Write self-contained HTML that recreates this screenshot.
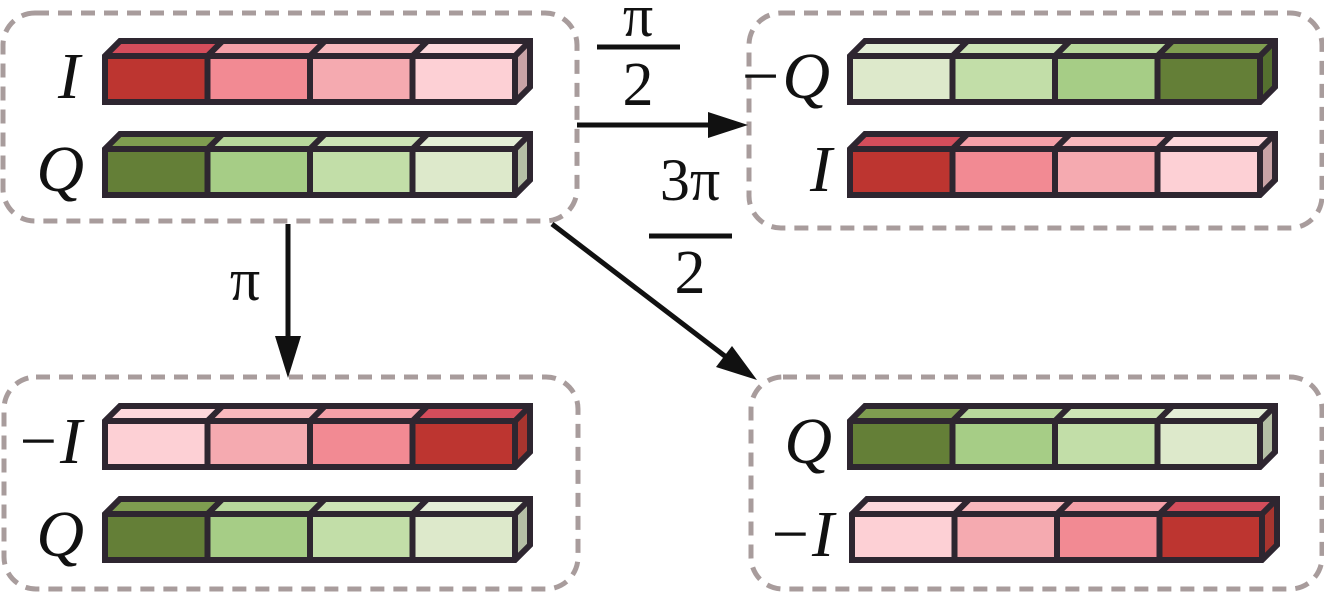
<!DOCTYPE html>
<html><head><meta charset="utf-8"><style>
html,body{margin:0;padding:0;background:#fff;}
svg{display:block;}
</style></head><body>
<svg id="s" width="1324" height="592" viewBox="0 0 1324 592" xmlns="http://www.w3.org/2000/svg" font-family="'Liberation Serif','DejaVu Serif',serif">
<g fill="none" stroke="#a89c9c" stroke-width="5" stroke-dasharray="14,9">
<rect x="3" y="13" width="574" height="208" rx="32"/>
<rect x="749" y="13" width="573" height="215" rx="32"/>
<rect x="4" y="377" width="574" height="212" rx="32"/>
<rect x="751" y="377" width="571" height="212" rx="32"/>
</g>
<g stroke="#111" stroke-width="5" fill="#111">
<line x1="577" y1="125" x2="718" y2="125"/>
<polygon points="748,125 708,112 708,138" stroke="none"/>
<line x1="288" y1="224" x2="288" y2="345"/>
<polygon points="288,378 275,336 301,336" stroke="none"/>
<line x1="552" y1="224" x2="730" y2="360"/>
<polygon points="757,380 716,367 732,346" stroke="none"/>
<line x1="597" y1="47" x2="680" y2="47"/>
<line x1="649" y1="236" x2="732" y2="236"/>
</g>
<g font-family="'Liberation Serif','DejaVu Serif',serif" fill="#111">
<text x="638" y="36" font-size="60" text-anchor="middle">π</text>
<text x="638" y="105" font-size="62" text-anchor="middle">2</text>
<text x="690" y="200" font-size="60" text-anchor="middle">3π</text>
<text x="690" y="293" font-size="62" text-anchor="middle">2</text>
<text x="245" y="300" font-size="60" text-anchor="middle">π</text>
</g>
<g font-family="'Liberation Serif','DejaVu Serif',serif" font-style="italic" font-size="66" fill="#111">
<text x="80" y="98" text-anchor="end">I</text>
<text x="84" y="191" text-anchor="end">Q</text>
<text x="830" y="98" text-anchor="end">−Q</text>
<text x="832" y="191" text-anchor="end">I</text>
<text x="82" y="463" text-anchor="end">−I</text>
<text x="84" y="556" text-anchor="end">Q</text>
<text x="832" y="463" text-anchor="end">Q</text>
<text x="834" y="556" text-anchor="end">−I</text>
</g>
<g id="bars"></g>
</svg>
<script>
var R=[["#bd3530","#d44d5b","#a8352f"],["#f28a93","#f5a0a8","#c98a90"],["#f5aab0","#f8b8bd","#c9a3a6"],["#fdd0d5","#fdd8dc","#c9a3a6"]];
var G=[["#647f37","#7f9d50","#55702f"],["#a6cd86","#b8d89c","#9fae8a"],["#c2dea8","#cde4b6","#b5bfa5"],["#dde9cb","#e4eed7","#b5bfa5"]];
function bar(x,y,cols){
 var w=410,h=46,d=15,cw=w/4,s="";
 for(var i=0;i<4;i++){var c=cols[i],cx=x+i*cw;
  s+='<polygon points="'+cx+','+y+' '+(cx+d)+','+(y-d)+' '+(cx+cw+d)+','+(y-d)+' '+(cx+cw)+','+y+'" fill="'+c[1]+'"/>';
  s+='<rect x="'+cx+'" y="'+y+'" width="'+cw+'" height="'+h+'" fill="'+c[0]+'"/>';}
 var l=cols[3];
 s+='<polygon points="'+(x+w)+','+y+' '+(x+w+d)+','+(y-d)+' '+(x+w+d)+','+(y+h-d)+' '+(x+w)+','+(y+h)+'" fill="'+l[2]+'"/>';
 var st='stroke="#2e2630" stroke-width="6" fill="none" stroke-linejoin="miter"';
 s+='<path '+st+' d="M'+x+','+y+' L'+(x+d)+','+(y-d)+' L'+(x+w+d)+','+(y-d)+' L'+(x+w+d)+','+(y+h-d)+' L'+(x+w)+','+(y+h)+' L'+x+','+(y+h)+' Z M'+x+','+y+' L'+(x+w)+','+y+' L'+(x+w+d)+','+(y-d)+' M'+(x+w)+','+y+' L'+(x+w)+','+(y+h)+'"/>';
 for(var i=1;i<4;i++){var cx=x+i*cw;s+='<path '+st+' d="M'+cx+','+(y+h)+' L'+cx+','+y+' L'+(cx+d)+','+(y-d)+'"/>';}
 return s;}
var rv=function(a){return a.slice().reverse();};
var o="";
o+=bar(105,56,R);o+=bar(105,149,G);
o+=bar(850,56,rv(G));o+=bar(850,149,R);
o+=bar(105,421,rv(R));o+=bar(105,514,G);
o+=bar(850,421,G);o+=bar(852,514,rv(R));
document.getElementById("bars").innerHTML=o;
</script>
</body></html>
